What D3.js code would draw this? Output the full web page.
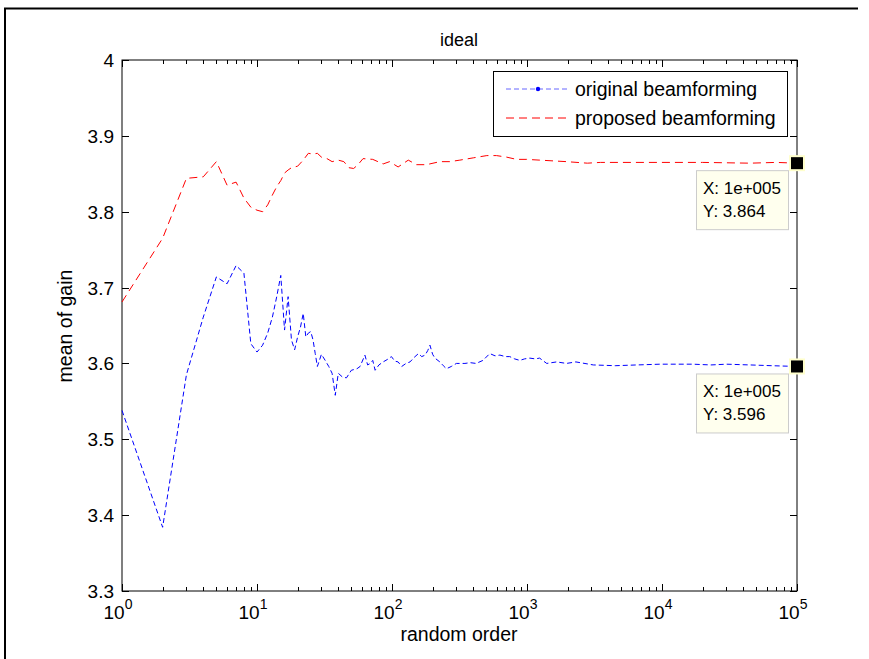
<!DOCTYPE html>
<html>
<head>
<meta charset="utf-8">
<script src="https://cdn.jsdelivr.net/npm/d3@7"></script>
<style>
  body { margin: 0; background: #fff; }
  svg { display: block; font-family: "Liberation Sans", Arial, sans-serif; }
</style>
</head>
<body>
<svg id="chart" width="869" height="659"></svg>
<script>
// values (running mean of gain vs random order)
let origOrder = [1,2,3,4,5,6,7,8,9,10,11,12,13,14,15,16,17,18,19,20,21,22,23,24,25,26,27,28,29,30,
  32,34,36,38,40,43,46,50,55,58,63,66,69,72,75,80,86,92,99,105,111,118,127,136,146,157,166,176,184,191,
  200,208,226,240,253,275,300,347,380,420,472,530,580,630,690,745,810,885,960,1050,1150,1240,1400,1660,
  1960,2300,3100,4500,6500,9700,13000,17000,23000,30000,45000,65000,100000];
let origGain = [3.538,3.384,3.585,3.661,3.714,3.705,3.729,3.719,3.626,3.615,3.624,3.640,3.661,3.688,3.716,
  3.644,3.688,3.631,3.618,3.635,3.648,3.666,3.635,3.640,3.642,3.631,3.613,3.596,3.604,3.612,
  3.604,3.596,3.587,3.558,3.587,3.582,3.581,3.591,3.593,3.596,3.611,3.598,3.600,3.604,3.591,3.598,3.602,
  3.605,3.609,3.603,3.602,3.596,3.600,3.602,3.608,3.613,3.609,3.611,3.617,3.624,
  3.612,3.607,3.602,3.597,3.593,3.596,3.600,3.600,3.601,3.600,3.604,3.613,3.610,3.611,3.609,3.609,3.606,
  3.604,3.606,3.607,3.606,3.607,3.600,3.602,
  3.600,3.602,3.598,3.597,3.598,3.599,3.599,3.599,3.598,3.599,3.598,3.597,3.596];

let propOrder = [1,2,3,4,5,6,7,8,9,10,11,12,13,14,15,16,17,18,20,22,24,26,28,30,33,36,40,44,48,52,56,
  61,72,86,96,111,132,152,180,226,268,318,400,504,594,705,836,992,1240,1560,1960,2800,3500,5000,8000,
  12000,20000,45000,70000,100000];
let propGain = [3.681,3.765,3.844,3.846,3.866,3.835,3.839,3.818,3.806,3.802,3.800,3.809,3.822,3.833,3.841,
  3.851,3.855,3.858,3.860,3.868,3.877,3.876,3.877,3.872,3.870,3.866,3.868,3.866,3.858,3.857,3.862,
  3.870,3.869,3.863,3.866,3.859,3.868,3.862,3.862,3.866,3.866,3.868,3.871,3.874,3.874,3.872,3.869,
  3.869,3.868,3.867,3.866,3.864,3.865,3.865,3.865,3.865,3.865,3.864,3.865,3.864];

let yTicks = [3.3,3.4,3.5,3.6,3.7,3.8,3.9,4];
let xDecades = [0,1,2,3,4,5];
let seriesNames = ["original beamforming", "proposed beamforming"];
let tipX = "1e+005";
let tipY = ["3.864", "3.596"];

let svg = d3.select("#chart");
let margin = {left: 122, right: 797, top: 60, bottom: 591};

let x = d3.scaleLog().domain([1, 1e5]).range([margin.left, margin.right]);
let y = d3.scaleLinear().domain([3.3, 4]).range([margin.bottom, margin.top]);

// figure frame (top + left edge as in the screenshot)
svg.append("path")
  .attr("d", "M5,659 L5,8.5 L858,8.5")
  .attr("fill", "none").attr("stroke", "#000").attr("stroke-width", 2);

// axes box
svg.append("rect")
  .attr("x", margin.left).attr("y", margin.top)
  .attr("width", margin.right - margin.left).attr("height", margin.bottom - margin.top)
  .attr("fill", "#fff").attr("stroke", "#000").attr("stroke-width", 1);

// log ticks, inward, bottom and top
let minorVals = [];
for (let d = 0; d < 5; d++) for (let k = 2; k <= 9; k++) minorVals.push(k * Math.pow(10, d));
let ticks = svg.append("g").attr("stroke", "#000").attr("stroke-width", 1);
minorVals.forEach(v => {
  let px = Math.round(x(v)) + 0.5;
  ticks.append("line").attr("x1", px).attr("x2", px).attr("y1", margin.bottom).attr("y2", margin.bottom - 4);
  ticks.append("line").attr("x1", px).attr("x2", px).attr("y1", margin.top).attr("y2", margin.top + 4);
});
xDecades.forEach(e => {
  let px = Math.round(x(Math.pow(10, e))) + 0.5;
  ticks.append("line").attr("x1", px).attr("x2", px).attr("y1", margin.bottom).attr("y2", margin.bottom - 7);
  ticks.append("line").attr("x1", px).attr("x2", px).attr("y1", margin.top).attr("y2", margin.top + 7);
});
yTicks.forEach(v => {
  let py = Math.round(y(v)) + 0.5;
  ticks.append("line").attr("x1", margin.left).attr("x2", margin.left + 7).attr("y1", py).attr("y2", py);
  ticks.append("line").attr("x1", margin.right).attr("x2", margin.right - 7).attr("y1", py).attr("y2", py);
});

// tick labels
yTicks.forEach(v => {
  svg.append("text").attr("x", 114).attr("y", y(v) + 7)
    .attr("text-anchor", "end").attr("font-size", 19)
    .text(d3.format("")(v));
});
xDecades.forEach(e => {
  let t = svg.append("text").attr("x", x(Math.pow(10, e)) - 4).attr("y", 619)
    .attr("text-anchor", "middle").attr("font-size", 19);
  t.append("tspan").text("10");
  t.append("tspan").attr("dy", -10).attr("font-size", 14).text(e);
});

// labels + title
svg.append("text").attr("x", 459).attr("y", 641).attr("text-anchor", "middle")
  .attr("font-size", 19.5).text("random order");
svg.append("text").attr("transform", "translate(72,326) rotate(-90)").attr("text-anchor", "middle")
  .attr("font-size", 19.5).text("mean of gain");
svg.append("text").attr("x", 459).attr("y", 46).attr("text-anchor", "middle")
  .attr("font-size", 18).text("ideal");

// lines
let line = d3.line().x(d => x(d[0])).y(d => y(d[1]));
let plot = svg.append("g");
plot.append("path")
  .datum(propOrder.map((n, i) => [n, propGain[i]]))
  .attr("d", line).attr("fill", "none").attr("stroke", "#ff0000")
  .attr("stroke-width", 1).attr("stroke-dasharray", "8,5");
plot.append("path")
  .datum(origOrder.map((n, i) => [n, origGain[i]]))
  .attr("d", line).attr("fill", "none").attr("stroke", "#0000ff")
  .attr("stroke-width", 1).attr("stroke-dasharray", "5,3");

// legend
let lg = svg.append("g");
lg.append("rect").attr("x", 493.5).attr("y", 71.5).attr("width", 294).attr("height", 65)
  .attr("fill", "#fff").attr("stroke", "#000");
let legColors = ["#0000ff", "#ff0000"];
seriesNames.forEach((s, i) => {
  let ly = 89 + i * 29;
  lg.append("line").attr("x1", 506).attr("x2", 569).attr("y1", ly).attr("y2", ly)
    .attr("stroke", legColors[i]).attr("stroke-dasharray", i === 0 ? "5,3" : "8,5")
    .attr("stroke-opacity", i === 0 ? 0.6 : 1);
  if (i === 0) lg.append("circle").attr("cx", 538).attr("cy", ly).attr("r", 2.2).attr("fill", "#0000ff");
  lg.append("text").attr("x", 575).attr("y", ly + 7).attr("font-size", 19.5).text(s);
});

// data tips at x = 1e5
let tipVals = [+tipY[0], +tipY[1]];
tipVals.forEach((v, i) => {
  let py = y(v);
  let g = svg.append("g");
  g.append("rect").attr("x", 696.5).attr("y", py + 7.5).attr("width", 92).attr("height", 59)
    .attr("fill", "#ffffee").attr("stroke", "#cccccc");
  g.append("text").attr("x", 703).attr("y", py + 31).attr("font-size", 17).text("X: " + tipX);
  g.append("text").attr("x", 703).attr("y", py + 54).attr("font-size", 17).text("Y: " + tipY[i]);
  g.append("rect").attr("x", x(1e5) - 7).attr("y", py - 7).attr("width", 14).attr("height", 14)
    .attr("fill", "#000").attr("stroke", "#ffffcc").attr("stroke-width", 2);
});
</script>
</body>
</html>
